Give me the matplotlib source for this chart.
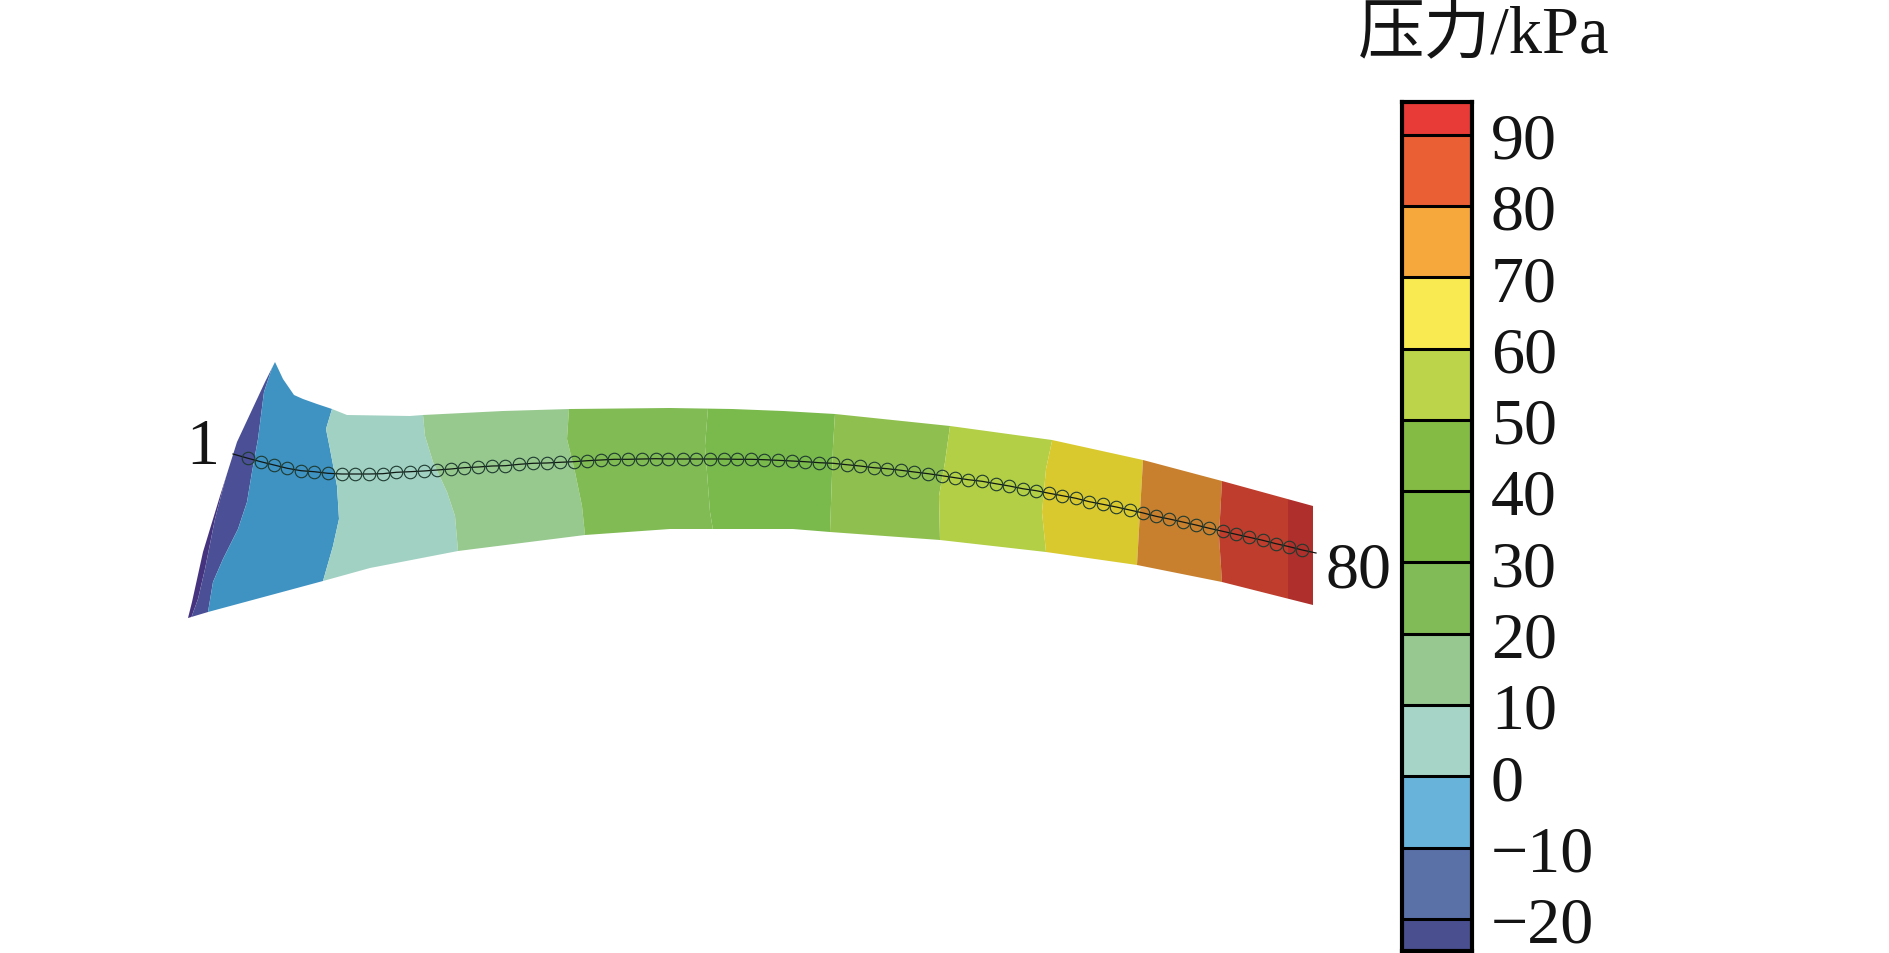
import matplotlib
matplotlib.use("Agg")
import matplotlib.pyplot as plt
import numpy as np
from matplotlib.patches import Polygon

# everything on the main axes is in pixels of the 1889x954 picture
outline = [
    (275, 363), (283, 380), (294, 396), (303, 400), (317, 405), (332, 410), (347, 416),
    (410, 417), (423, 416), (503, 412), (570, 410), (670, 409), (732, 410), (783, 412),
    (835, 415), (950, 427), (1052, 441), (1143, 461), (1222, 482), (1313, 507), (1313, 606),
    (1222, 583), (1137, 566), (1046, 553), (940, 541), (830, 533), (793, 530), (670, 530),
    (585, 536), (458, 552), (370, 569), (323, 582), (208, 613), (188, 619), (192, 603),
    (203, 553), (220, 497), (237, 443), (265, 383),
]

# colour borders across the strip, left to right
borders = [
    [(150, 340), (150, 640)],
    [(228, 470), (215, 520), (205, 570), (198, 600), (190, 622)],
    [(275, 360), (264, 393), (258, 440), (252, 473), (247, 503), (238, 530), (223, 560), (213, 583), (208, 613)],
    [(332, 410), (326, 430), (330, 450), (337, 487), (339, 520), (333, 547), (323, 582)],
    [(423, 416), (425, 437), (433, 463), (447, 493), (455, 517), (458, 552)],
    [(569, 410), (567, 440), (575, 473), (582, 507), (585, 536)],
    [(708, 409), (705, 447), (710, 513), (713, 531)],
    [(835, 415), (833, 447), (830, 533)],
    [(950, 427), (945, 463), (939, 497), (940, 541)],
    [(1052, 442), (1046, 470), (1042, 513), (1046, 553)],
    [(1143, 461), (1140, 513), (1137, 566)],
    [(1222, 482), (1219, 537), (1222, 583)],
    [(1288, 500), (1288, 597)],
    [(1320, 480), (1320, 620)],
]
band_colors = [
    "#46337f", "#4a4f96", "#3f93c3", "#a1d1c2", "#97c98f", "#80bb54", "#7ab94c",
    "#8fc04f", "#b2cf45", "#d9c92f", "#c8802f", "#bf3d2d", "#ae2f2b",
]

node_x = [
    248, 260.7, 274, 287.3, 301, 314.3, 328, 341.7, 355.3, 369, 382.7, 396.3, 410, 423.7,
    437.3, 450.7, 464.3, 478.3, 492, 505.3, 519.3, 533, 546.7, 560, 573.7, 587.3, 601,
    614.3, 628.3, 642, 655.7, 668.3, 682.7, 696, 710, 723.7, 737.3, 750.7, 764.3, 778,
    792, 805.3, 819.3, 833, 846.7, 860, 873.7, 887.3, 901, 914.3, 928.3, 941.7, 955,
    968.3, 982, 995.7, 1009.3, 1022.7, 1036.3, 1049.3, 1062.3, 1076, 1089.3, 1102.7,
    1116.3, 1129.7, 1143.3, 1156, 1169.3, 1182.7, 1196, 1209.3, 1222.7, 1236, 1249.3,
    1262.7, 1276, 1289.3, 1302.3,
]
node_y = [
    459.3, 462.7, 466, 469.3, 471.7, 472.7, 474.3, 475, 475, 475, 474.7, 473.3, 472.7, 472,
    471, 470, 468.7, 468, 467, 466.7, 465.3, 464.3, 464, 463.3, 462.7, 461.7, 461,
    460.3, 460.3, 460, 459.7, 460, 460, 460, 460, 460, 460.3, 460.3, 460.7, 461.3,
    462, 462.7, 463.7, 464.3, 465.7, 467, 468.7, 469.7, 471.3, 473, 474.7, 476.7, 478.7,
    480.7, 482.3, 484.7, 487, 489.7, 491.7, 494.3, 496.7, 499.3, 502.7, 505.3,
    508, 511, 514, 517.3, 520, 523, 526, 529.3, 532.3, 535.3, 538.3,
    541.3, 544.7, 547.7, 551,
]
line_x = [233] + node_x + [1316]
line_y = [455] + node_y + [554]

# colour bar
bar_edges = [-24.5, -20, -10, 0, 10, 20, 30, 40, 50, 60, 70, 80, 90, 94.6]
bar_colors = [
    "#4a4f8f", "#5a71a8", "#68b3da", "#a6d5c7", "#96c88f", "#81bb58", "#7ab843",
    "#84bb44", "#bcd44a", "#f9ea52", "#f6a83c", "#eb5f35", "#e83a36",
]
bar_ticks = [-20, -10, 0, 10, 20, 30, 40, 50, 60, 70, 80, 90]
bar_labels = ["\u221220", "\u221210", "0", "10", "20", "30", "40", "50", "60", "70", "80", "90"]

W, H = 1889, 954
serif = ["Liberation Serif", "Noto Sans CJK SC"]
text_color = "#141414"

fig = plt.figure(figsize=(W / 100, H / 100), dpi=100)
ax = fig.add_axes([0, 0, 1, 1])
ax.set_xlim(0, W)
ax.set_ylim(H, 0)
ax.axis("off")

clip = Polygon(outline, closed=True, transform=ax.transData)
for i, color in enumerate(band_colors):
    left = borders[i]
    right = borders[i + 1]
    # run the borders past the outline, the clip trims them
    left = [(left[0][0], left[0][1] - 30)] + left + [(left[-1][0], left[-1][1] + 30)]
    right = [(right[0][0], right[0][1] - 30)] + right + [(right[-1][0], right[-1][1] + 30)]
    band = Polygon(left + right[::-1], closed=True, facecolor=color, edgecolor="none")
    ax.add_patch(band)
    band.set_clip_path(clip)

ax.plot(line_x, line_y, color="#101814", lw=0.9)
ax.plot(node_x, node_y, ls="none", marker="o", ms=9, mfc="none", mec="#1e3a30", mew=0.8)

ax.text(186, 464, "1", fontsize=47.5, family=serif, color=text_color, ha="left", va="baseline")
ax.text(1326, 588, "80", fontsize=47.5, family=serif, color=text_color, ha="left", va="baseline")
ax.text(1358, 53, "压力/kPa", fontsize=48, family=serif, color=text_color, ha="left", va="baseline")

# bar axes run from y=103 to y=952
cax = fig.add_axes([1402 / W, (H - 952) / H, 70 / W, 849 / H])
cax.set_xlim(0, 1)
cax.set_ylim(bar_edges[0], bar_edges[-1])
for low, high, color in zip(bar_edges[:-1], bar_edges[1:], bar_colors):
    cax.bar(0.5, high - low, bottom=low, width=1, color=color)
cax.hlines(bar_ticks, 0, 1, color="black", lw=2.2)
cax.set_xticks([])
cax.set_yticks([])
for spine in cax.spines.values():
    spine.set_linewidth(3)
    spine.set_color("black")

trans = cax.get_yaxis_transform()
for value, label in zip(bar_ticks, bar_labels):
    cax.text(1.27, value, label, transform=trans, fontsize=47.5, family=serif, color=text_color,
             ha="left", va="center_baseline", clip_on=False)

fig.savefig("out.png", dpi=100)
